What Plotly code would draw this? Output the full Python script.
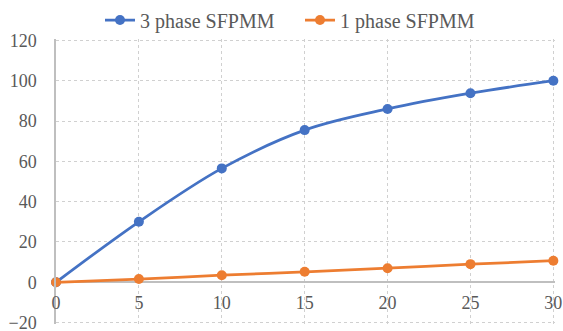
import plotly.graph_objects as go

x_vals = [0, 5, 10, 15, 20, 25, 30]
three_phase = [0, 30, 56.5, 75.5, 86, 93.8, 100]
one_phase = [0, 1.6, 3.5, 5.2, 7.0, 9.0, 10.7]
x_ticks = [0, 5, 10, 15, 20, 25, 30]
y_ticks = [-20, 0, 20, 40, 60, 80, 100, 120]

BLUE = "#4472C4"
ORANGE = "#ED7D31"
FONT = "Liberation Serif"

fig = go.Figure()
fig.add_trace(go.Scatter(
    x=x_vals, y=three_phase, name="3 phase SFPMM", mode="lines+markers",
    line=dict(color=BLUE, width=2.75, shape="spline", smoothing=1),
    marker=dict(color=BLUE, size=10), cliponaxis=False))
fig.add_trace(go.Scatter(
    x=x_vals, y=one_phase, name="1 phase SFPMM", mode="lines+markers",
    line=dict(color=ORANGE, width=2.75, shape="spline", smoothing=1),
    marker=dict(color=ORANGE, size=10), cliponaxis=False))

# axis ranges padded slightly so the edge gridlines are drawn
yr = [-20.7, 120.7]
xr = [0, 30.1]
fig.update_layout(
    width=563, height=331,
    margin=dict(l=56, r=8, t=39, b=7, autoexpand=False),
    paper_bgcolor="white", plot_bgcolor="white",
    font=dict(family=FONT, size=18, color="#595959"),
    showlegend=True,
    legend=dict(orientation="h", xref="container", x=100 / 563, xanchor="left",
                yref="container", y=1 - 20 / 331, yanchor="middle",
                font=dict(family=FONT, size=20, color="#595959"),
                entrywidth=155, tracegroupgap=0, bgcolor="rgba(0,0,0,0)"),
    xaxis=dict(range=xr, tickvals=x_ticks, showgrid=True, gridcolor="#d0d0d0",
               griddash="dot", gridwidth=1, zeroline=False, showline=False,
               anchor="free", position=(0 - yr[0]) / (yr[1] - yr[0]), automargin=False,
               ticks="", ticklabelstandoff=8, ticklabeloverflow="allow",
               tickfont=dict(family=FONT, size=18, color="#595959")),
    yaxis=dict(range=yr, tickvals=y_ticks, showgrid=True, gridcolor="#d0d0d0",
               griddash="dot", gridwidth=1, zeroline=True, zerolinecolor="#bfbfbf",
               zerolinewidth=1.5, showline=True, linecolor="#bfbfbf", linewidth=1.5,
               automargin=False, ticklabeloverflow="allow",
               ticks="", ticklabelstandoff=14, tickfont=dict(family=FONT, size=18, color="#595959")),
)

fig.write_html("out.html", config={"displayModeBar": False})

with open("out.html", "r", encoding="utf-8") as f:
    html = f.read()
html = html.replace("<head>", "<head><style>html,body{margin:0;padding:0;overflow:hidden;}</style>", 1)
with open("out.html", "w", encoding="utf-8") as f:
    f.write(html)
